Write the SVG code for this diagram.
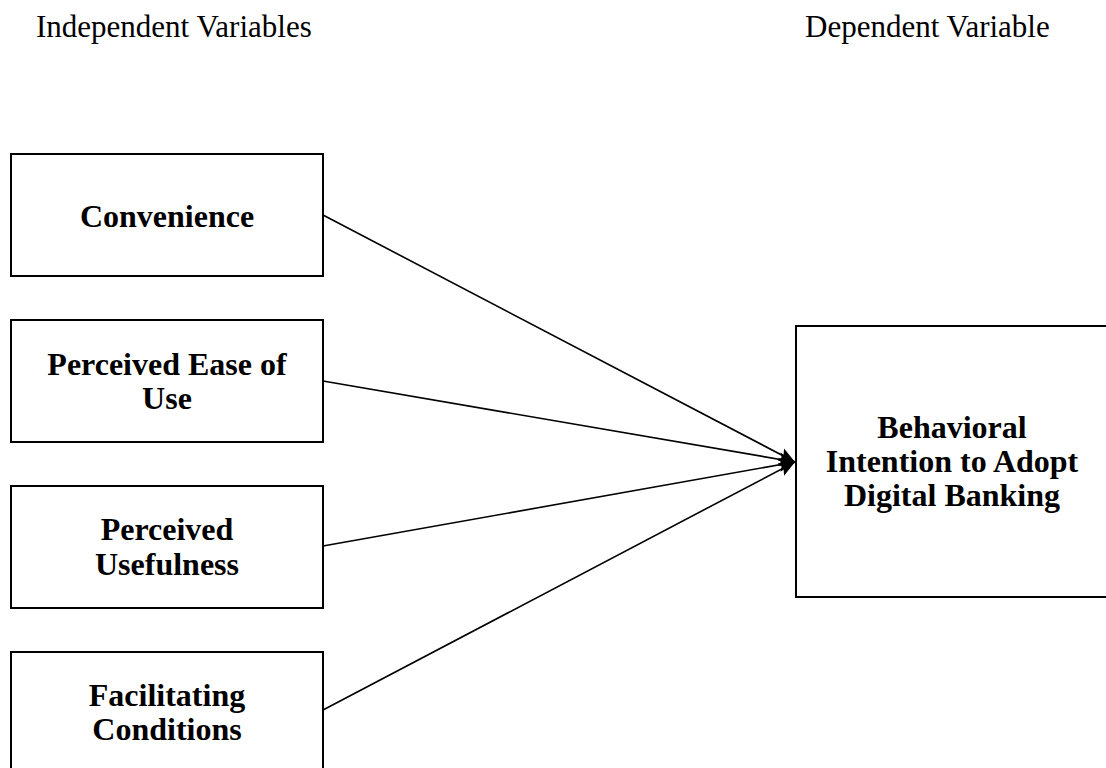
<svg xmlns="http://www.w3.org/2000/svg" width="1106" height="768" viewBox="0 0 1106 768">
<style>
.box{fill:#fff;stroke:#000;stroke-width:2}
.lbl{font-family:"Liberation Serif","Times New Roman",serif;font-size:32px;font-weight:bold;text-anchor:middle;fill:#000}
.hdr{font-family:"Liberation Serif","Times New Roman",serif;font-size:31px;fill:#000}
.conn{stroke:#000;stroke-width:1.6;fill:none;marker-end:url(#arr)}
</style>
<defs>
<marker id="arr" markerUnits="userSpaceOnUse" markerWidth="18" markerHeight="16" refX="16" refY="8" orient="auto">
<path d="M0,1 L16,8 L0,15 L3,8 z" fill="#000"/>
</marker>
</defs>
<rect width="1106" height="768" fill="#fff"/>
<text class="hdr" x="36" y="37">Independent Variables</text>
<text class="hdr" x="805" y="37">Dependent Variable</text>
<g id="convenience">
<rect class="box" x="11" y="154" width="312" height="122"/>
<text class="lbl" x="167" y="227">Convenience</text>
</g>
<g id="ease">
<rect class="box" x="11" y="320" width="312" height="122"/>
<text class="lbl" x="167" y="375">Perceived Ease of</text>
<text class="lbl" x="167" y="409">Use</text>
</g>
<g id="usefulness">
<rect class="box" x="11" y="486" width="312" height="122"/>
<text class="lbl" x="167" y="540">Perceived</text>
<text class="lbl" x="167" y="575">Usefulness</text>
</g>
<g id="facilitating">
<rect class="box" x="11" y="652" width="312" height="122"/>
<text class="lbl" x="167" y="706">Facilitating</text>
<text class="lbl" x="167" y="740">Conditions</text>
</g>
<g id="intention">
<rect class="box" x="796" y="326" width="312" height="271"/>
<text class="lbl" x="952" y="438">Behavioral</text>
<text class="lbl" x="952" y="472">Intention to Adopt</text>
<text class="lbl" x="952" y="506">Digital Banking</text>
</g>
<g id="connectors">
<line class="conn" x1="323" y1="215" x2="795" y2="462"/>
<line class="conn" x1="323" y1="381" x2="795" y2="462"/>
<line class="conn" x1="323" y1="546" x2="795" y2="462"/>
<line class="conn" x1="323" y1="710" x2="795" y2="462"/>
</g>
</svg>
